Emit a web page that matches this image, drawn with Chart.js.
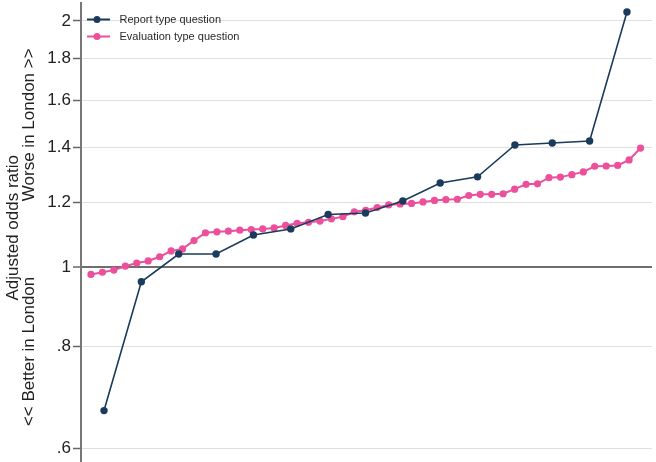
<!DOCTYPE html>
<html>
<head>
<meta charset="utf-8">
<script src="https://cdn.jsdelivr.net/npm/chart.js@4.4.1/dist/chart.umd.min.js"></script>
<style>
    html, body { margin: 0; padding: 0; background: #fff; }
    #chart { display: block; }
</style>
</head>
<body>
<canvas id="chart" width="656" height="462"></canvas>
<script>
// 数据：按大小排序后的调整比值比
const seriesNames = ['Report type question', 'Evaluation type question'];
const reportValues = [0.667, 0.959, 1.037, 1.037, 1.094, 1.113, 1.159, 1.164, 1.204, 1.267, 1.289, 1.410, 1.418, 1.426, 2.051];
const evalValues = [
    0.979, 0.985, 0.991, 1.002, 1.011, 1.017, 1.029, 1.046, 1.052, 1.077,
    1.101, 1.104, 1.106, 1.109, 1.111, 1.113, 1.116, 1.124, 1.131, 1.134,
    1.138, 1.145, 1.152, 1.168, 1.173, 1.182, 1.191, 1.194, 1.196, 1.201,
    1.206, 1.209, 1.210, 1.223, 1.227, 1.227, 1.229, 1.245, 1.262, 1.264,
    1.286, 1.288, 1.297, 1.307, 1.328, 1.329, 1.331, 1.352, 1.398
];
const yTickValues = [0.6, 0.8, 1, 1.2, 1.4, 1.6, 1.8, 2];
const yTickLabels = ['.6', '.8', '1', '1.2', '1.4', '1.6', '1.8', '2'];
// 轴标题两行（用空格微调位置）
const yTitle = ['  Adjusted odds ratio', '<< Better in London' + ' '.repeat(16) + 'Worse in London >>  '];

const blue = '#1a3b5c';
const pink = '#ec4f9b';
const fontFamily = '"Liberation Sans", Arial, sans-serif';

// 图例图标：线 + 圆点
function makeIcon(color, lineWidth) {
    const c = document.createElement('canvas');
    c.width = 27;
    c.height = 9;
    const ctx = c.getContext('2d');
    ctx.strokeStyle = color;
    ctx.lineWidth = lineWidth;
    ctx.beginPath();
    ctx.moveTo(0, 4.5);
    ctx.lineTo(23, 4.5);
    ctx.stroke();
    ctx.fillStyle = color;
    ctx.beginPath();
    ctx.arc(10, 4.5, 3.5, 0, Math.PI * 2);
    ctx.fill();
    return c;
}
const legendIcons = [makeIcon(blue, 2), makeIcon(pink, 2)];

new Chart(document.getElementById('chart'), {
    type: 'line',
    data: {
        datasets: [{
            label: seriesNames[0],
            data: reportValues.map((v, i) => ({ x: i + 1, y: v })),
            xAxisID: 'x2',
            borderColor: blue,
            backgroundColor: blue,
            borderWidth: 1.6,
            pointRadius: 3.7,
            pointBorderWidth: 0,
            tension: 0
        }, {
            label: seriesNames[1],
            data: evalValues.map((v, i) => ({ x: i + 1, y: v })),
            xAxisID: 'x',
            borderColor: pink,
            backgroundColor: pink,
            borderWidth: 2,
            pointRadius: 3.6,
            pointBorderWidth: 0,
            tension: 0
        }]
    },
    options: {
        responsive: false,
        animation: false,
        layout: {
            autoPadding: false,
            padding: { top: 3, right: 4, bottom: 0, left: 0 }
        },
        plugins: {
            tooltip: { enabled: false },
            legend: {
                position: 'chartArea',
                align: 'start',
                title: {
                    display: true,
                    text: '',
                    font: { size: 8, lineHeight: 1 },
                    padding: 0
                },
                labels: {
                    usePointStyle: true,
                    pointStyleWidth: 27,
                    padding: 6,
                    color: '#2a2a2a',
                    font: { family: fontFamily, size: 11 },
                    generateLabels: function(chart) {
                        const items = Chart.defaults.plugins.legend.labels.generateLabels(chart);
                        return items.map((item, i) => Object.assign(item, { pointStyle: legendIcons[i] }));
                    }
                }
            }
        },
        scales: {
            x: {
                type: 'linear',
                display: false,
                min: 0.13,
                max: 50.0
            },
            x2: {
                type: 'linear',
                display: false,
                min: 0.384,
                max: 15.67
            },
            y: {
                type: 'logarithmic',
                min: 0.577,
                max: 2.104,
                afterBuildTicks: function(scale) {
                    scale.ticks = yTickValues.map(v => ({ value: v }));
                },
                afterFit: function(scale) {
                    scale.width = 81;
                    scale.paddingTop = 0;
                    scale.paddingBottom = 0;
                },
                border: { color: '#777', width: 2 },
                grid: {
                    color: ctx => (ctx.tick && ctx.tick.value === 1) ? '#6e6e6e' : '#e0e0e0',
                    lineWidth: ctx => (ctx.tick && ctx.tick.value === 1) ? 2 : 1,
                    tickColor: '#666',
                    tickWidth: 1.5,
                    tickLength: 8,
                    drawTicks: true
                },
                ticks: {
                    padding: 2,
                    color: '#222',
                    font: { family: fontFamily, size: 17 },
                    callback: function(value, index) {
                        return yTickLabels[index];
                    }
                },
                title: {
                    display: true,
                    text: yTitle,
                    color: '#222',
                    font: { family: fontFamily, size: 17, lineHeight: 0.95 },
                    padding: { top: 5, bottom: 0 }
                }
            }
        }
    }
});
</script>
</body>
</html>
